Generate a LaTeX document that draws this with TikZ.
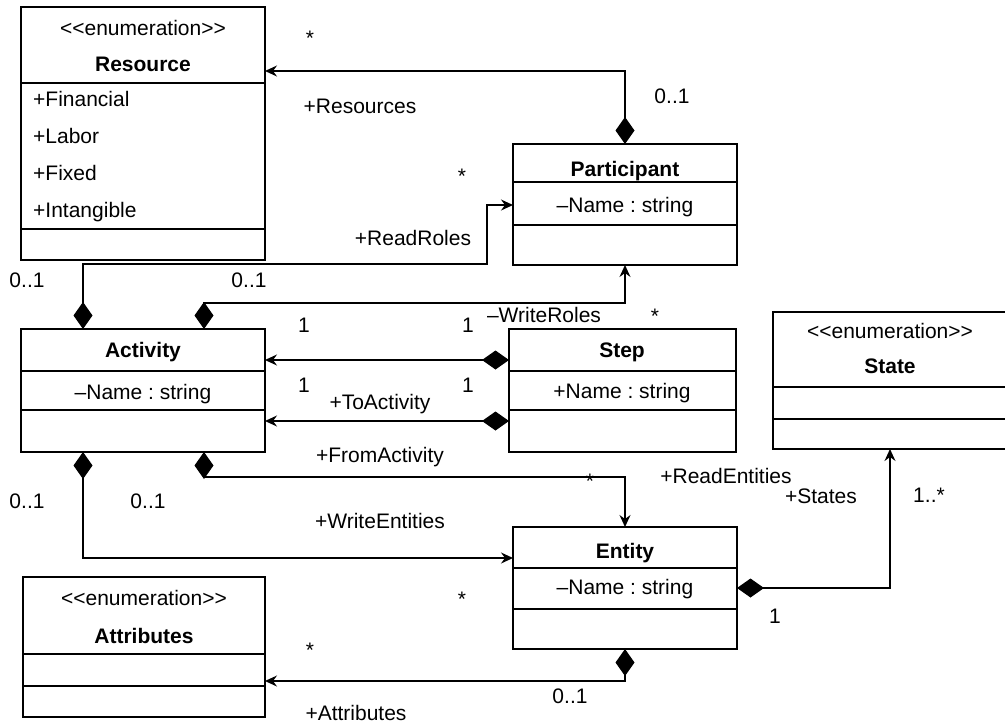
\documentclass[tikz,border=0pt]{standalone}
\usepackage{fontspec}
\setmainfont{Liberation Sans}
\usetikzlibrary{arrows.meta, calc}
\frenchspacing

% stereotype text, kerns keep << and >> from turning into guillemets
\newcommand{\enumstereo}{<\kern0pt<enumeration>\kern0pt>}

\tikzset{
  classbox/.style={draw, line width=1.5pt, anchor=north west, inner sep=0pt, outer sep=0pt},
  divider/.style={line width=1.5pt},
  assoc/.style={line width=1.3pt, {Diamond[length=27pt,width=19pt]}-{Stealth[length=12pt,width=11pt,inset=4pt]}},
  lbl/.style={anchor=base, inner sep=0pt},
}

\begin{document}
\begin{tikzpicture}[x=1pt, y=-1pt, font=\fontsize{21}{25}\selectfont]
  \path[use as bounding box] (0,0) rectangle (1005,724);
  \clip (0,0) rectangle (1005,724);

  % class boxes: name/left/top/width/height/first divider/second divider
  \foreach \n/\x/\y/\w/\h/\a/\b in {res/21/7/244/253/76/222, part/513/144/224/121/38/81,
      step/509/329/227/123/42/81, state/773/312/234/137/75/107, act/21/329/244/123/42/81,
      attr/23/577/242/140/77/109, ent/513/527/224/122/41/82} {
    \node[classbox, minimum width=\w pt, minimum height=\h pt] (\n) at (\x,\y) {};
    \draw[divider] ([yshift=-\a pt]\n.north west) -- ([yshift=-\a pt]\n.north east);
    \draw[divider] ([yshift=-\b pt]\n.north west) -- ([yshift=-\b pt]\n.north east);
  }

  % class texts
  \node[lbl] (resstereo) at (143,35) {\enumstereo};
  \node[lbl] (restitle) at (143,71) {\textbf{Resource}};
  \foreach \t [count=\i] in {Financial, Labor, Fixed, Intangible}
    \node[lbl, anchor=base west] (resitem\i) at (33,69+37*\i) {+\t};

  \node[lbl] (parttitle) at (625,176) {\textbf{Participant}};
  \node[lbl] (partname) at (625,212) {–Name : string};

  \node[lbl] (steptitle) at (622,357) {\textbf{Step}};
  \node[lbl] (stepname) at (622,398) {+Name : string};

  \node[lbl] (statestereo) at (890,338) {\enumstereo};
  \node[lbl] (statetitle) at (890,373) {\textbf{State}};

  \node[lbl] (acttitle) at (143,357) {\textbf{Activity}};
  \node[lbl] (actname) at (143,399) {–Name : string};

  \node[lbl] (attrstereo) at (144,605) {\enumstereo};
  \node[lbl] (attrtitle) at (144,643) {\textbf{Attributes}};

  \node[lbl] (enttitle) at (625,558) {\textbf{Entity}};
  \node[lbl] (entname) at (625,594) {–Name : string};

  % associations
  \draw[assoc] (part.north) |- ([yshift=-64pt]res.north east);
  \draw[assoc] ([xshift=62pt]act.north west) |- (487,264) |- ([yshift=-61pt]part.north west);
  \draw[assoc] ([xshift=183pt]act.north west) |- ([yshift=-38pt]part.south) -- (part.south);
  \draw[assoc] ([yshift=-31pt]step.north west) -- ([yshift=-31pt]act.north east);
  \draw[assoc] ([yshift=-92pt]step.north west) -- ([yshift=-92pt]act.north east);
  \draw[assoc] ([xshift=183pt]act.south west) |- ([yshift=50pt]ent.north) -- (ent.north);
  \draw[assoc] ([xshift=62pt]act.south west) |- ([yshift=-31pt]ent.north west);
  \draw[assoc] ([yshift=-61pt]ent.north east) -| ([xshift=117pt]state.south west);
  \draw[assoc] (ent.south) |- ([yshift=-104pt]attr.north east);

  % role names and multiplicities
  \node[lbl] (m1) at (310,45) {*};
  \node[lbl] (rresources) at (360,113) {+Resources};
  \node[lbl] (m2) at (672,103) {0..1};
  \node[lbl] (m3) at (462,183) {*};
  \node[lbl] (rreadroles) at (413,245) {+ReadRoles};
  \node[lbl] (m4) at (27,287) {0..1};
  \node[lbl] (m5) at (249,287) {0..1};
  \node[lbl] (m6) at (304,332) {1};
  \node[lbl] (m7) at (468,332) {1};
  \node[lbl] (rwriteroles) at (544,322) {–WriteRoles};
  \node[lbl] (m8) at (655,323) {*};
  \node[lbl] (m9) at (304,392) {1};
  \node[lbl] (m10) at (468,392) {1};
  \node[lbl] (rtoact) at (380,409) {+ToActivity};
  \node[lbl] (rfromact) at (380,462) {+FromActivity};
  \node[lbl] (m11) at (27,508) {0..1};
  \node[lbl] (m12) at (148,508) {0..1};
  \node[lbl] (rwriteent) at (380,528) {+WriteEntities};
  \node[lbl] (m13) at (590,488) {*};
  \node[lbl] (rreadent) at (726,483) {+ReadEntities};
  \node[lbl] (rstates) at (821,503) {+States};
  \node[lbl] (m14) at (929,502) {1..*};
  \node[lbl] (m15) at (775,623) {1};
  \node[lbl] (m16) at (462,606) {*};
  \node[lbl] (m17) at (310,657) {*};
  \node[lbl] (m18) at (570,703) {0..1};
  \node[lbl] (rattrs) at (356,720) {+Attributes};
\end{tikzpicture}
\end{document}
